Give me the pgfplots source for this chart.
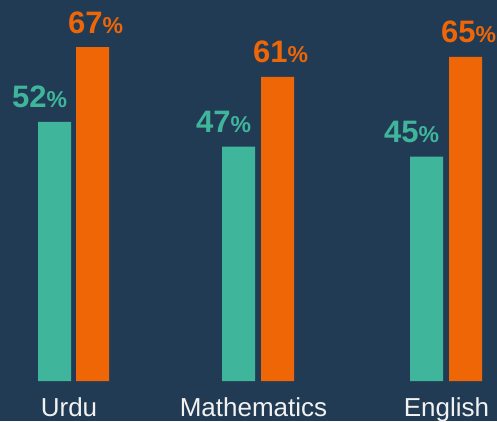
\documentclass[border=0pt]{standalone}
\usepackage{pgfplots}
\pgfplotsset{compat=1.18}
\usepackage{fontspec}
\setmainfont{Liberation Sans}
\definecolor{bg}{HTML}{223B54}
\definecolor{teal}{HTML}{3FB59B}
\definecolor{orng}{HTML}{EE6606}
\definecolor{txt}{HTML}{F2F2F2}
\begin{document}
\begin{tikzpicture}
\begin{axis}[
  width=497pt, height=421pt, scale only axis,
  xmin=0, xmax=497, ymin=-8.02, ymax=76.43,
  axis background/.style={fill=bg},
  axis line style={draw=none},
  tick style={draw=none},
  ytick=\empty,
  xtick={69,253.5,446.5},
  xticklabels={Urdu,Mathematics,English},
  xticklabel style={anchor=base, yshift=9pt, inner sep=0pt, text=txt, font=\fontsize{26}{26}\selectfont},
  ybar, bar width=33pt,
  every axis plot/.append style={draw=none, bar shift=0pt},
  nodes near coords={\bfseries\fontsize{31}{31}\selectfont\pgfmathprintnumber[assume math mode=true]{\pgfplotspointmeta}{\fontsize{23}{23}\selectfont\%}},
  every node near coord/.append style={anchor=base, inner sep=0pt, yshift=14pt},
  clip=false,
]
\addplot[fill=teal, nodes near coords style={text=teal, xshift=-15pt}] coordinates {(54.5,52) (238.5,47) (426.5,45)};
\addplot[fill=orng, nodes near coords style={text=orng, xshift=3pt}] coordinates {(92.5,67) (277.5,61) (465.5,65)};
\end{axis}
\pgfresetboundingbox
\useasboundingbox (current axis.south west) rectangle (current axis.north east);
\end{tikzpicture}
\end{document}
